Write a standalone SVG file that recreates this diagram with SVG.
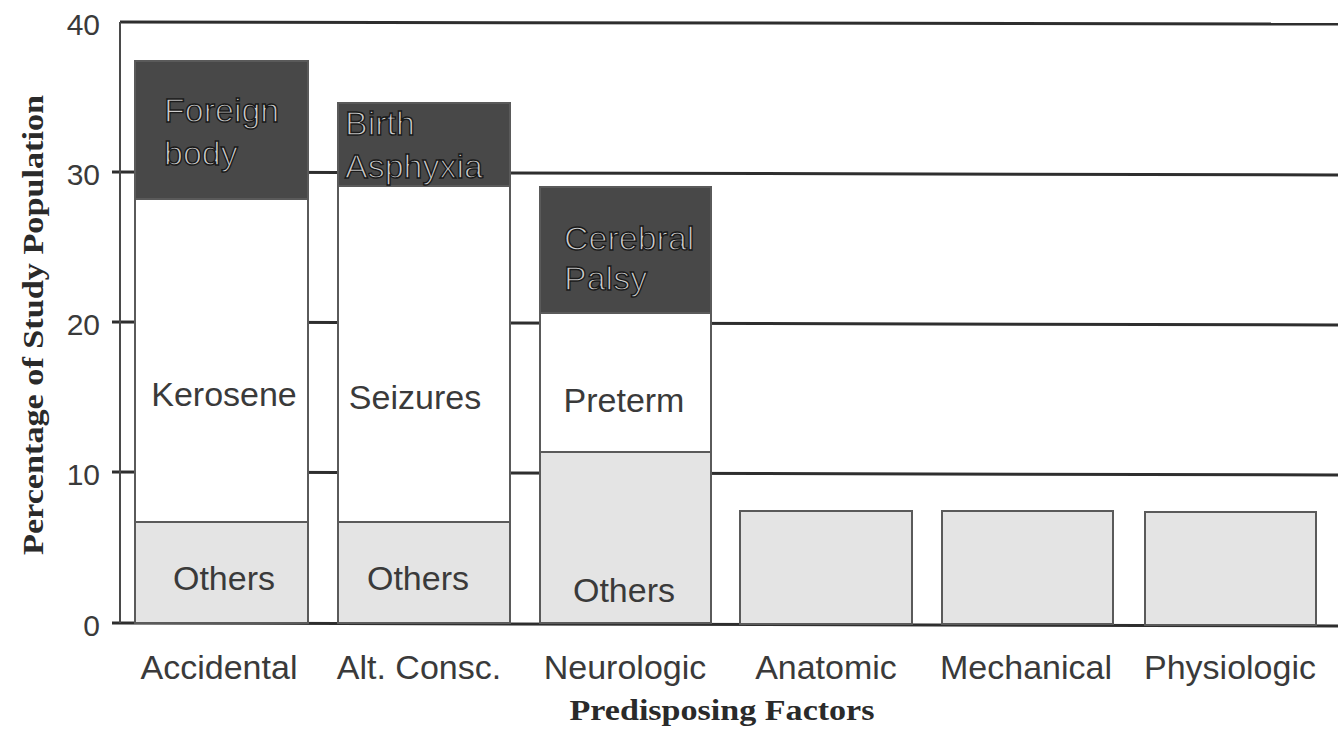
<svg xmlns="http://www.w3.org/2000/svg" width="1338" height="729" viewBox="0 0 1338 729">
<style>
.grid{stroke:#2e2e2e;stroke-width:3;fill:none}
.axis{stroke:#4a4a4a;stroke-width:2;fill:none}
.dark{fill:#484848;stroke:#5a5a5a;stroke-width:2}
.white{fill:#ffffff;stroke:#5a5a5a;stroke-width:2}
.light{fill:#e4e4e4;stroke:#5a5a5a;stroke-width:2}
.lbl{font-family:"Liberation Sans",Arial,sans-serif;font-size:34px;fill:#3a3a3a}
.dlbl{font-family:"Liberation Sans",Arial,sans-serif;font-size:34px;fill:#cfcfcf;stroke:#1a1a1a;stroke-width:1.4}
.tick{font-family:"Liberation Sans",Arial,sans-serif;font-size:30px;fill:#3a3a3a;text-anchor:end}
.cat{font-family:"Liberation Sans",Arial,sans-serif;font-size:34px;fill:#3a3a3a;text-anchor:middle}
.title{font-family:"Liberation Serif","Times New Roman",serif;font-weight:bold;font-size:30px;fill:#2a2a2a}
</style>
<rect width="1338" height="729" fill="#ffffff"/>
<g id="gridlines">
<line class="grid" x1="120" y1="22" x2="1338" y2="24"/>
<line class="grid" x1="112" y1="172" x2="1338" y2="175"/>
<line class="grid" x1="112" y1="322" x2="1338" y2="325"/>
<line class="grid" x1="112" y1="472" x2="1338" y2="475"/>
<line class="grid" x1="112" y1="623" x2="1338" y2="626"/>
<line class="axis" x1="120" y1="22" x2="120" y2="623"/>
</g>
<g id="ticks">
<text class="tick" x="100" y="35">40</text>
<text class="tick" x="100" y="185">30</text>
<text class="tick" x="100" y="335">20</text>
<text class="tick" x="100" y="485">10</text>
<text class="tick" x="100" y="636">0</text>
</g>
<g id="bar-accidental">
<rect class="light" x="135" y="522" width="173" height="101"/>
<rect class="white" x="135" y="199" width="173" height="323"/>
<rect class="dark" x="135" y="61" width="173" height="138"/>
<text class="dlbl" x="164" y="122">Foreign</text>
<text class="dlbl" x="164" y="165">body</text>
<text class="lbl" x="224" y="406" text-anchor="middle">Kerosene</text>
<text class="lbl" x="224" y="590" text-anchor="middle">Others</text>
</g>
<g id="bar-altconsc">
<rect class="light" x="338" y="522" width="172" height="101"/>
<rect class="white" x="338" y="186" width="172" height="336"/>
<rect class="dark" x="338" y="103" width="172" height="83"/>
<text class="dlbl" x="345" y="135">Birth</text>
<text class="dlbl" x="345" y="178">Asphyxia</text>
<text class="lbl" x="415" y="409" text-anchor="middle">Seizures</text>
<text class="lbl" x="418" y="590" text-anchor="middle">Others</text>
</g>
<g id="bar-neurologic">
<rect class="light" x="540" y="452" width="171" height="171"/>
<rect class="white" x="540" y="313" width="171" height="139"/>
<rect class="dark" x="540" y="187" width="171" height="126"/>
<text class="dlbl" x="564" y="250">Cerebral</text>
<text class="dlbl" x="564" y="290">Palsy</text>
<text class="lbl" x="624" y="412" text-anchor="middle">Preterm</text>
<text class="lbl" x="624" y="602" text-anchor="middle">Others</text>
</g>
<g id="bar-anatomic">
<rect class="light" x="740" y="511" width="172" height="113"/>
</g>
<g id="bar-mechanical">
<rect class="light" x="942" y="511" width="171" height="113"/>
</g>
<g id="bar-physiologic">
<rect class="light" x="1145" y="512" width="171" height="113"/>
</g>
<g id="categories">
<text class="cat" x="219" y="679">Accidental</text>
<text class="cat" x="419" y="679">Alt. Consc.</text>
<text class="cat" x="625" y="679">Neurologic</text>
<text class="cat" x="826" y="679">Anatomic</text>
<text class="cat" x="1026" y="679">Mechanical</text>
<text class="cat" x="1230" y="679">Physiologic</text>
</g>
<g id="axis-titles">
<text class="title" x="722" y="720" text-anchor="middle" textLength="305" lengthAdjust="spacingAndGlyphs">Predisposing Factors</text>
<text class="title" transform="translate(43,325) rotate(-90)" x="0" y="0" text-anchor="middle" textLength="460" lengthAdjust="spacingAndGlyphs">Percentage of Study Population</text>
</g>
</svg>
